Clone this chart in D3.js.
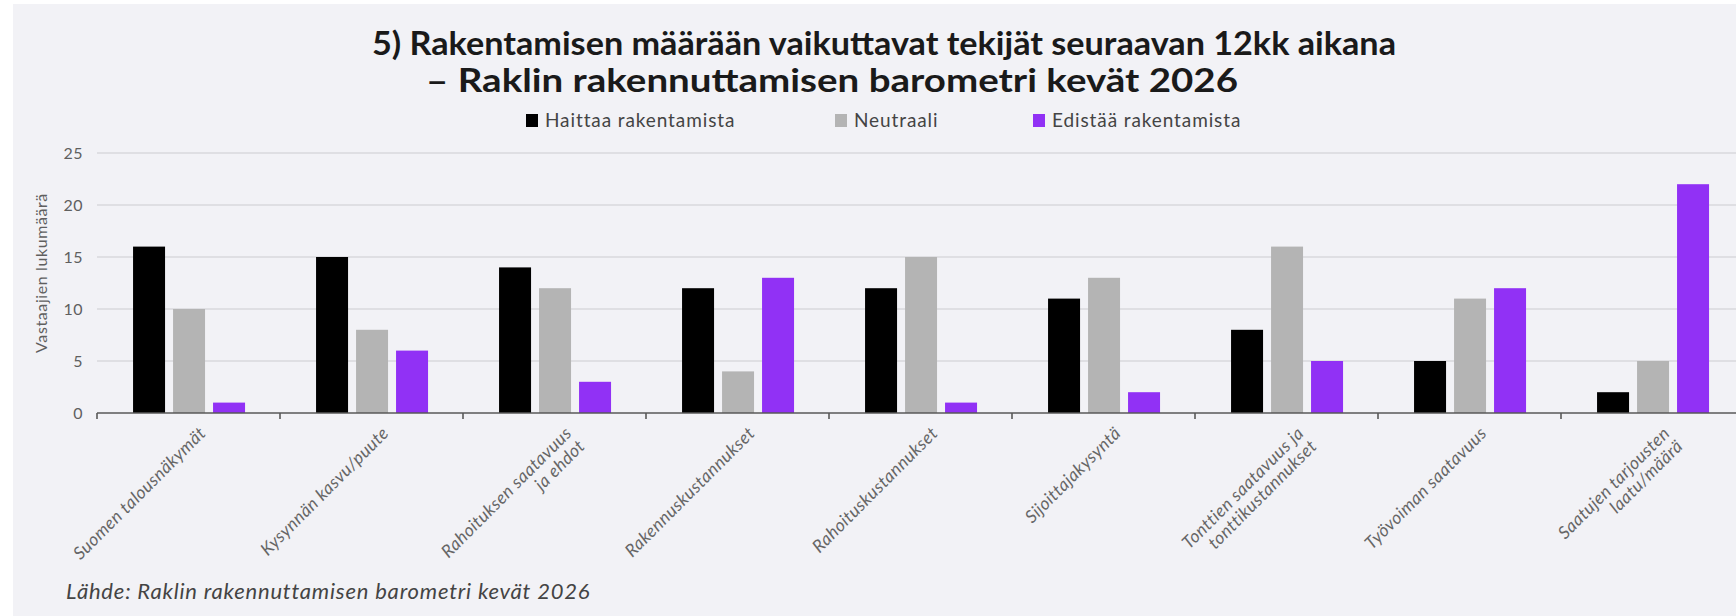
<!DOCTYPE html>
<html>
<head>
<meta charset="utf-8">
<script src="https://cdn.jsdelivr.net/npm/d3@7"></script>
<style>
    html, body { margin: 0; padding: 0; background: #ffffff; }
    svg { display: block; font-family: Lato, 'Open Sans', sans-serif; }
</style>
</head>
<body>
<div id="chart"></div>
<script>
'use strict';

var title = ['5) Rakentamisen määrään vaikuttavat tekijät seuraavan 12kk aikana',
    '– Raklin rakennuttamisen barometri kevät 2026'];
var source = 'Lähde: Raklin rakennuttamisen barometri kevät 2026';
var yLabel = 'Vastaajien lukumäärä';

var categories = ['Suomen talousnäkymät', 'Kysynnän kasvu/puute', 'Rahoituksen saatavuus ja ehdot',
    'Rakennuskustannukset', 'Rahoituskustannukset', 'Sijoittajakysyntä',
    'Tonttien saatavuus ja tonttikustannukset', 'Työvoiman saatavuus', 'Saatujen tarjousten laatu/määrä'];
var tickLabels = [
    ['Suomen talousnäkymät'],
    ['Kysynnän kasvu/puute'],
    ['Rahoituksen saatavuus', 'ja ehdot'],
    ['Rakennuskustannukset'],
    ['Rahoituskustannukset'],
    ['Sijoittajakysyntä'],
    ['Tonttien saatavuus ja', 'tonttikustannukset'],
    ['Työvoiman saatavuus'],
    ['Saatujen tarjousten', 'laatu/määrä']
];
var seriesNames = ['Haittaa rakentamista', 'Neutraali', 'Edistää rakentamista'];
var seriesColors = ['#000000', '#b4b4b4', '#9131f5'];
var haittaa = [16, 15, 14, 12, 12, 11, 8, 5, 2];
var neutraali = [10, 8, 12, 4, 15, 13, 16, 11, 5];
var edistaa = [1, 6, 3, 13, 1, 2, 5, 12, 22];
var yTicks = [0, 5, 10, 15, 20, 25];

var width = 1736;
var height = 616;
// plot continues past the right edge, like the cropped original
var plot = { left: 97, right: 1744, top: 153, bottom: 413 };

var seriesValues = [haittaa, neutraali, edistaa];
var rows = categories.map(function(c, i) {
    return {
        name: c,
        lines: tickLabels[i],
        values: seriesNames.map(function(s, j) { return { key: s, value: seriesValues[j][i] }; })
    };
});

var svg = d3.select('#chart').append('svg')
    .attr('width', width)
    .attr('height', height);

// panel
svg.append('rect')
    .attr('x', 13).attr('y', 4)
    .attr('width', width - 13).attr('height', height - 4)
    .attr('fill', '#f2f2f6');

var x0 = d3.scaleBand()
    .domain(categories)
    .range([plot.left, plot.right])
    .padding(0);

var bw = x0.bandwidth();
var x1 = d3.scaleBand()
    .domain(seriesNames)
    .range([bw * 0.197, bw * 0.809])
    .paddingInner(0.2);

var y = d3.scaleLinear()
    .domain([0, 25])
    .range([plot.bottom, plot.top]);

var color = d3.scaleOrdinal().domain(seriesNames).range(seriesColors);

// gridlines
svg.append('g')
    .selectAll('line')
    .data(yTicks.slice(1))
    .enter().append('line')
    .attr('x1', plot.left).attr('x2', width)
    .attr('y1', function(d) { return y(d); })
    .attr('y2', function(d) { return y(d); })
    .attr('stroke', '#d9d9dc')
    .attr('stroke-width', 1.3);

// y axis labels
var yAxis = d3.axisLeft(y).tickValues(yTicks).tickSize(0).tickPadding(14);
svg.append('g')
    .attr('transform', 'translate(' + plot.left + ',0)')
    .call(yAxis)
    .call(function(g) { g.select('.domain').remove(); })
    .selectAll('text')
    .attr('font-family', 'Lato, sans-serif')
    .attr('font-size', 16)
    .attr('letter-spacing', 0.5)
    .attr('fill', '#5f5f5f');

svg.append('text')
    .attr('transform', 'translate(41,273) rotate(-90)')
    .attr('text-anchor', 'middle')
    .attr('dy', '0.35em')
    .attr('font-size', 16)
    .attr('letter-spacing', 0.6)
    .attr('fill', '#5f5f5f')
    .text(yLabel);

// bars
var groups = svg.append('g')
    .selectAll('g')
    .data(rows)
    .enter().append('g')
    .attr('transform', function(d) { return 'translate(' + x0(d.name) + ',0)'; });

groups.selectAll('rect')
    .data(function(d) { return d.values; })
    .enter().append('rect')
    .attr('x', function(d) { return x1(d.key); })
    .attr('y', function(d) { return y(d.value); })
    .attr('width', x1.bandwidth())
    .attr('height', function(d) { return y(0) - y(d.value); })
    .attr('fill', function(d) { return color(d.key); });

// x axis
var xAxis = d3.axisBottom(x0).tickSize(0).tickFormat('');
var xg = svg.append('g')
    .attr('transform', 'translate(0,' + plot.bottom + ')')
    .call(xAxis);
xg.select('.domain').remove();
xg.append('line')
    .attr('x1', plot.left).attr('x2', width)
    .attr('stroke', '#595959').attr('stroke-width', 1.6);
xg.selectAll('line.sep')
    .data(categories)
    .enter().append('line')
    .attr('class', 'sep')
    .attr('x1', function(d) { return x0(d); })
    .attr('x2', function(d) { return x0(d); })
    .attr('y1', 0).attr('y2', 6)
    .attr('stroke', '#595959').attr('stroke-width', 1.6);

var labels = svg.append('g')
    .selectAll('text')
    .data(rows)
    .enter().append('text')
    .attr('transform', function(d) {
        return 'translate(' + (x0(d.name) + bw / 2 + 14) + ',' + (plot.bottom + 17) + ') rotate(-45)';
    })
    .attr('text-anchor', 'end')
    .attr('font-size', 17.5)
    .attr('letter-spacing', 0.4)
    .attr('font-style', 'italic')
    .attr('fill', '#666666');

labels.selectAll('tspan')
    .data(function(d) { return d.lines; })
    .enter().append('tspan')
    .attr('x', 0)
    .attr('dy', function(d, i) { return i === 0 ? '0.35em' : '1.05em'; })
    .text(function(d) { return d; });

// title, widths
var titleX = [372, 426];
var titleW = [1024, 812];
var titleY = [55, 92];
svg.append('g')
    .selectAll('text')
    .data(title)
    .enter().append('text')
    .attr('x', function(d, i) { return titleX[i]; })
    .attr('y', function(d, i) { return titleY[i]; })
    .attr('textLength', function(d, i) { return titleW[i]; })
    .attr('lengthAdjust', 'spacingAndGlyphs')
    .attr('font-size', 33)
    .attr('font-weight', 700)
    .attr('fill', '#1a1a1a')
    .text(function(d) { return d; });

// legend
var legendX = [526, 835, 1033];
var legend = svg.append('g')
    .selectAll('g')
    .data(seriesNames)
    .enter().append('g')
    .attr('transform', function(d, i) { return 'translate(' + legendX[i] + ',120)'; });

legend.append('rect')
    .attr('x', 0).attr('y', -6)
    .attr('width', 12).attr('height', 13)
    .attr('fill', function(d) { return color(d); });

legend.append('text')
    .attr('x', 19)
    .attr('dy', '0.35em')
    .attr('font-size', 19)
    .attr('letter-spacing', 0.9)
    .attr('fill', '#444444')
    .text(function(d) { return d; });

// source
svg.append('text')
    .attr('x', 66)
    .attr('y', 599)
    .attr('font-size', 22)
    .attr('letter-spacing', 0.8)
    .attr('font-style', 'italic')
    .attr('fill', '#444444')
    .text(source);
</script>
</body>
</html>
